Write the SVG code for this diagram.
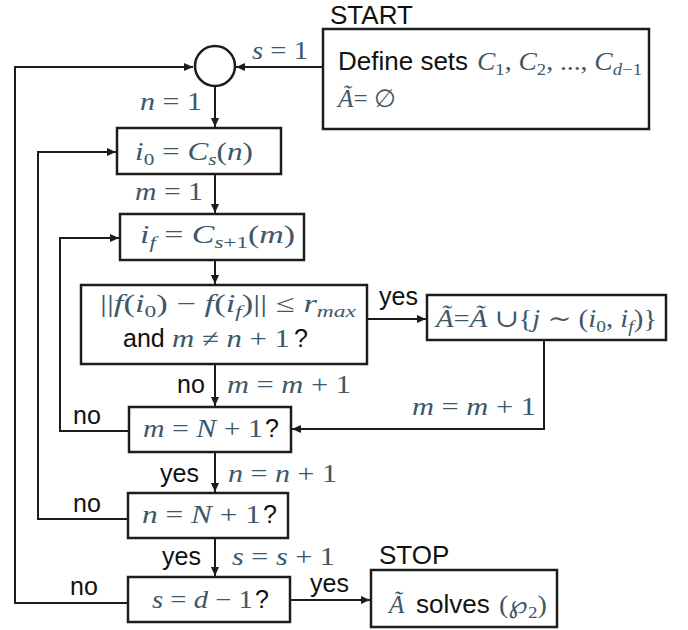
<svg xmlns="http://www.w3.org/2000/svg" width="688" height="630" viewBox="0 0 688 630">
<style>
.box{fill:#fff;stroke:#1c1c1c;stroke-width:2.5}
.ln{fill:none;stroke:#1c1c1c;stroke-width:2}
.t{font-family:"Liberation Sans",Arial,sans-serif;font-size:25px;fill:#111}
.m{font-family:"Liberation Serif","DejaVu Serif",serif;font-size:25px;fill:#3d5868}
.i{font-style:italic}
.s{font-size:17px}
</style>
<defs>
<marker id="ah" markerUnits="userSpaceOnUse" markerWidth="9" markerHeight="8" refX="9" refY="4" orient="auto">
<path d="M0,0 L9,4 L0,8 z" fill="#1c1c1c"/>
</marker>
</defs>
<rect width="688" height="630" fill="#fff"/>

<g id="connectors">
<path class="ln" d="M128,603 H15 V67 H193" marker-end="url(#ah)"/>
<path class="ln" d="M323,67 H236" marker-end="url(#ah)"/>
<path class="ln" d="M215,86 V127" marker-end="url(#ah)"/>
<path class="ln" d="M128,519 H38 V152 H116" marker-end="url(#ah)"/>
<path class="ln" d="M215,174 V213" marker-end="url(#ah)"/>
<path class="ln" d="M129,431 H60 V238 H119" marker-end="url(#ah)"/>
<path class="ln" d="M215,260 V284" marker-end="url(#ah)"/>
<path class="ln" d="M367,319 H426" marker-end="url(#ah)"/>
<path class="ln" d="M215,364 V406" marker-end="url(#ah)"/>
<path class="ln" d="M544,340 V429 H292" marker-end="url(#ah)"/>
<path class="ln" d="M215,452 V492" marker-end="url(#ah)"/>
<path class="ln" d="M215,538 V576" marker-end="url(#ah)"/>
<path class="ln" d="M290,600 H370" marker-end="url(#ah)"/>
</g>

<g id="labels">
<text class="m" x="252" y="59" textLength="56" lengthAdjust="spacingAndGlyphs"><tspan class="i">s</tspan> = 1</text>
<text class="m" x="140" y="110" textLength="62" lengthAdjust="spacingAndGlyphs"><tspan class="i">n</tspan> = 1</text>
<text class="m" x="135" y="200" textLength="68" lengthAdjust="spacingAndGlyphs"><tspan class="i">m</tspan> = 1</text>
<text class="t" x="177" y="393">no</text>
<text class="m" x="227" y="393" textLength="124" lengthAdjust="spacingAndGlyphs"><tspan class="i">m</tspan> = <tspan class="i">m</tspan> + 1</text>
<text class="t" x="379" y="305">yes</text>
<text class="m" x="412" y="415" textLength="124" lengthAdjust="spacingAndGlyphs"><tspan class="i">m</tspan> = <tspan class="i">m</tspan> + 1</text>
<text class="t" x="73" y="424">no</text>
<text class="t" x="160" y="482">yes</text>
<text class="m" x="228" y="482" textLength="109" lengthAdjust="spacingAndGlyphs"><tspan class="i">n</tspan> = <tspan class="i">n</tspan> + 1</text>
<text class="t" x="73" y="512">no</text>
<text class="t" x="162" y="565">yes</text>
<text class="m" x="232" y="565" textLength="103" lengthAdjust="spacingAndGlyphs"><tspan class="i">s</tspan> = <tspan class="i">s</tspan> + 1</text>
<text class="t" x="70" y="595">no</text>
<text class="t" x="310" y="592">yes</text>
</g>

<g id="start">
<text class="t" x="330" y="24" style="font-size:26px">START</text>
<rect class="box" x="323" y="29" width="326" height="100"/>
<text class="t" x="338" y="70" style="font-size:26px">Define sets</text>
<text class="m" x="477" y="70" textLength="165" lengthAdjust="spacingAndGlyphs"><tspan class="i">C</tspan><tspan class="s" dy="5">1</tspan><tspan dy="-5">, </tspan><tspan class="i">C</tspan><tspan class="s" dy="5">2</tspan><tspan dy="-5">, ..., </tspan><tspan class="i">C</tspan><tspan class="s i" dy="5">d</tspan><tspan class="s" dy="0">−1</tspan></text>
<text class="m" x="338" y="107" textLength="58" lengthAdjust="spacingAndGlyphs"><tspan class="i">Ã</tspan>= ∅</text>
</g>

<g id="merge">
<circle cx="215" cy="66" r="20" fill="#fff" stroke="#1c1c1c" stroke-width="2.5"/>
</g>

<g id="set-i0">
<rect class="box" x="117" y="128" width="164" height="46"/>
<text class="m" x="135" y="160" textLength="118" lengthAdjust="spacingAndGlyphs"><tspan class="i">i</tspan><tspan class="s" dy="5">0</tspan><tspan dy="-5"> = </tspan><tspan class="i">C</tspan><tspan class="s i" dy="5">s</tspan><tspan dy="-5">(</tspan><tspan class="i">n</tspan>)</text>
</g>

<g id="set-if">
<rect class="box" x="120" y="214" width="184" height="46"/>
<text class="m" x="140" y="243" textLength="155" lengthAdjust="spacingAndGlyphs"><tspan class="i">i</tspan><tspan class="s i" dy="5">f</tspan><tspan dy="-5"> = </tspan><tspan class="i">C</tspan><tspan class="s" dy="5"><tspan class="i">s</tspan>+1</tspan><tspan dy="-5">(</tspan><tspan class="i">m</tspan>)</text>
</g>

<g id="condition">
<rect class="box" x="81" y="285" width="286" height="79"/>
<text class="m" x="100" y="312" textLength="256" lengthAdjust="spacingAndGlyphs">||<tspan class="i">f</tspan>(<tspan class="i">i</tspan><tspan class="s" dy="5">0</tspan><tspan dy="-5">) − </tspan><tspan class="i">f</tspan>(<tspan class="i">i</tspan><tspan class="s i" dy="5">f</tspan><tspan dy="-5">)|| ≤ </tspan><tspan class="i">r</tspan><tspan class="s i" dy="5">max</tspan></text>
<text class="t" x="123" y="347">and</text>
<text class="m" x="172" y="347" textLength="118" lengthAdjust="spacingAndGlyphs"><tspan class="i">m</tspan> ≠ <tspan class="i">n</tspan> + 1</text>
<text class="t" x="294" y="347">?</text>
</g>

<g id="update-A">
<rect class="box" x="427" y="295" width="239" height="45"/>
<text class="m" x="436" y="327" textLength="221" lengthAdjust="spacingAndGlyphs"><tspan class="i">Ã</tspan>=<tspan class="i">Ã</tspan> ∪{<tspan class="i">j</tspan> ∼ (<tspan class="i">i</tspan><tspan class="s" dy="5">0</tspan><tspan dy="-5">, </tspan><tspan class="i">i</tspan><tspan class="s i" dy="5">f</tspan><tspan dy="-5">)}</tspan></text>
</g>

<g id="test-m">
<rect class="box" x="129" y="407" width="162" height="45"/>
<text class="m" x="143" y="437" textLength="120" lengthAdjust="spacingAndGlyphs"><tspan class="i">m</tspan> = <tspan class="i">N</tspan> + 1</text>
<text class="t" x="265" y="437">?</text>
</g>

<g id="test-n">
<rect class="box" x="128" y="493" width="160" height="45"/>
<text class="m" x="142" y="523" textLength="119" lengthAdjust="spacingAndGlyphs"><tspan class="i">n</tspan> = <tspan class="i">N</tspan> + 1</text>
<text class="t" x="263" y="523">?</text>
</g>

<g id="test-s">
<rect class="box" x="128" y="577" width="162" height="45"/>
<text class="m" x="152" y="608" textLength="101" lengthAdjust="spacingAndGlyphs"><tspan class="i">s</tspan> = <tspan class="i">d</tspan> − 1</text>
<text class="t" x="255" y="608">?</text>
</g>

<g id="stop">
<text class="t" x="379" y="564" style="font-size:26px">STOP</text>
<rect class="box" x="371" y="570" width="186" height="57"/>
<text class="m i" x="389" y="613" style="font-size:25px">Ã</text>
<text class="t" x="416" y="613" style="font-size:26px">solves</text>
<text class="m" x="499" y="613" textLength="48" lengthAdjust="spacingAndGlyphs">(<tspan style="font-family:'DejaVu Sans',sans-serif">℘</tspan><tspan class="s" dy="5">2</tspan><tspan dy="-5">)</tspan></text>
</g>
</svg>
